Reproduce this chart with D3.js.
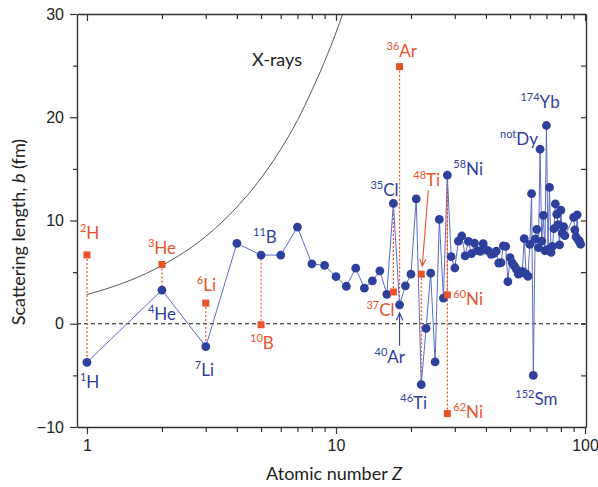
<!DOCTYPE html>
<html>
<head>
<meta charset="utf-8">
<script src="https://cdn.jsdelivr.net/npm/d3@7"></script>
<style>
  html, body { margin: 0; padding: 0; background: #fff; }
  svg { display: block; }
</style>
</head>
<body>
<div id="chart"></div>
<script>
/* Neutron scattering length b versus atomic number Z (log axis) */

// blue series: one value per element (natural or a chosen isotope)
const blueZ = [1, 2, 3, 4, 5, 6, 7, 8, 9, 10, 11, 12, 13, 14, 15, 16, 17, 18, 19, 20,
  21, 22, 23, 24, 25, 26, 27, 28, 29, 30, 31, 32, 33, 34, 35, 36, 37, 38, 39, 40,
  41, 42, 43, 44, 45, 46, 47, 48, 49, 50, 51, 52, 53, 54, 55, 56, 57, 58, 59, 60,
  61, 62, 63, 64, 65, 66, 67, 68, 69, 70, 71, 72, 73, 74, 75, 76, 77, 78, 79, 80,
  81, 82, 83, 90, 91, 92, 93, 94, 95, 96];
const blueB = [-3.74, 3.26, -2.22, 7.79, 6.65, 6.65, 9.36, 5.80, 5.65, 4.57, 3.63, 5.38, 3.45, 4.15, 5.13, 2.85, 11.65, 1.83, 3.67, 4.8,
  12.1, -5.9, -0.45, 4.9, -3.7, 10.1, 2.49, 14.4, 6.5, 5.4, 8.0, 8.5, 6.58, 7.97, 6.8, 7.81, 7.09, 7.02, 7.75, 7.16,
  7.05, 6.72, 6.8, 7.03, 5.88, 5.91, 7.55, 7.5, 4.07, 6.4, 5.9, 5.6, 5.28, 4.8, 4.9, 5.07, 8.24, 4.84, 4.58, 7.69,
  12.6, -5.0, 8.2, 9.15, 7.38, 16.9, 8.01, 10.5, 7.07, 19.2, 7.21, 13.2, 6.91, 7.5, 9.2, 11.6, 10.6, 9.6, 7.63, 11.0,
  8.78, 9.4, 8.53, 10.31, 9.1, 8.42, 10.55, 8.1, 8.0, 7.7];

// red series: other isotopes of the same element
const redZ = [1, 2, 3, 5, 17, 18, 22, 28, 28];
const redB = [6.67, 5.74, 2.0, -0.1, 3.08, 24.9, 4.8, 2.8, -8.7];

// X-ray line
const xrayZ = [1, 1.5, 2, 3, 4, 5, 6, 7, 8, 9, 10, 10.64];
const xrayB = [2.82, 4.23, 5.64, 8.46, 11.3, 14.1, 16.9, 19.7, 22.6, 25.4, 28.2, 30];

// isotope labels: mass number, symbol, series, Z
const labelSup = ["1", "4", "7", "11", "35", "40", "46", "58", "152", "not", "174",
                  "2", "3", "6", "10", "37", "36", "48", "60", "62"];
const labelEl  = ["H", "He", "Li", "B", "Cl", "Ar", "Ti", "Ni", "Sm", "Dy", "Yb",
                  "H", "He", "Li", "B", "Cl", "Ar", "Ti", "Ni", "Ni"];
const labelSeries = ["b", "b", "b", "b", "b", "b", "b", "b", "b", "b", "b",
                     "r", "r", "r", "r", "r", "r", "r", "r", "r"];
const labelIdx = [0, 1, 2, 4, 16, 17, 21, 27, 61, 65, 69,   // index into blue arrays
                  0, 1, 2, 3, 4, 5, 6, 7, 8];               // index into red arrays

const yTicks = [-10, 0, 10, 20, 30];
const yMinor = [-5, 5, 15, 25];
const xTicks = [1, 10, 100];
const xMinor = [2, 3, 4, 5, 6, 7, 8, 9, 20, 30, 40, 50, 60, 70, 80, 90];

// ---- layout / styles ----
const W = 598, H = 487;
const BLUE = '#2f3f9c', BLUE_LINE = '#5b6cc8', RED = '#e8522c', AXIS = '#333';
const LABEL_FONT = 'Lato, "Open Sans", sans-serif';
const TICK_FONT = '"Liberation Sans", Arial, sans-serif';

// label offsets (px) from their point: left edge, baseline
const labelOff = [[-7, 26], [-14, 30], [-11, 29], [-8, -12], [-23, -7], [-25, 58], [-21, 24],
                  [6, 0], [-18, 30], [-40, -4], [-26, -18],
                  [-7, -16], [-14, -10], [-9, -12], [-11, 24], [-27, 24], [-13, -10],
                  [-8, -88], [6, 10], [6, 4]];

const x = d3.scaleLog().domain([0.912, 100.9]).range([77, 586]);
const y = d3.scaleLinear().domain([-10, 30]).range([427, 14]);

const svg = d3.select('#chart').append('svg')
    .attr('width', W)
    .attr('height', H);

const clip = svg.append('clipPath').attr('id', 'plot-clip')
  .append('rect')
    .attr('x', 77).attr('y', 14)
    .attr('width', 509).attr('height', 413);

const plot = svg.append('g').attr('clip-path', 'url(#plot-clip)');

// X-ray curve
plot.append('path')
    .datum(xrayZ.map((z, i) => [z, xrayB[i]]))
    .attr('fill', 'none')
    .attr('stroke', '#444')
    .attr('stroke-width', 0.9)
    .attr('d', d3.line().x(d => x(d[0])).y(d => y(d[1])).curve(d3.curveMonotoneX));

// zero line
plot.append('line')
    .attr('x1', 77).attr('x2', 586)
    .attr('y1', y(0)).attr('y2', y(0))
    .attr('stroke', '#111')
    .attr('stroke-width', 1)
    .attr('stroke-dasharray', '4,3');

// dotted red links from each isotope to its element point
plot.append('g')
  .selectAll('line')
  .data(redZ.map((z, i) => ({ z, b: redB[i], b0: blueB[blueZ.indexOf(z)] })))
  .join('line')
    .attr('x1', d => x(d.z)).attr('x2', d => x(d.z))
    .attr('y1', d => y(d.b)).attr('y2', d => y(d.b0))
    .attr('stroke', RED)
    .attr('stroke-width', 1.2)
    .attr('stroke-dasharray', '2,2');

// blue line + dots
const blue = blueZ.map((z, i) => [z, blueB[i]]);
plot.append('path')
    .datum(blue)
    .attr('fill', 'none')
    .attr('stroke', BLUE_LINE)
    .attr('stroke-width', 1)
    .attr('d', d3.line().x(d => x(d[0])).y(d => y(d[1])));

plot.append('g')
  .selectAll('circle')
  .data(blue)
  .join('circle')
    .attr('cx', d => x(d[0]))
    .attr('cy', d => y(d[1]))
    .attr('r', 4.4)
    .attr('fill', BLUE);

// red squares
plot.append('g')
  .selectAll('rect')
  .data(redZ.map((z, i) => [z, redB[i]]))
  .join('rect')
    .attr('x', d => x(d[0]) - 3.5)
    .attr('y', d => y(d[1]) - 3.5)
    .attr('width', 7).attr('height', 7)
    .attr('fill', RED);

// axes
function styleAxis(g) {
  g.selectAll('.domain').attr('stroke', AXIS).attr('stroke-width', 1.4);
  g.selectAll('.tick line').attr('stroke', AXIS).attr('stroke-width', 1.2);
  g.selectAll('.tick text').attr('fill', '#222')
      .style('font-family', TICK_FONT).style('font-size', '16px');
}
const fmtY = d => d < 0 ? '\u2212' + Math.abs(d) : String(d);

svg.append('g').attr('transform', 'translate(77,0)')
    .call(d3.axisLeft(y).tickValues(yTicks).tickSize(7).tickSizeOuter(0).tickPadding(6).tickFormat(fmtY))
    .call(styleAxis);
svg.append('g').attr('transform', 'translate(77,0)')
    .call(d3.axisLeft(y).tickValues(yMinor).tickSize(4).tickFormat(''))
    .call(g => g.select('.domain').remove())
    .call(styleAxis);

svg.append('g').attr('transform', 'translate(0,427)')
    .call(d3.axisBottom(x).tickValues(xTicks).tickSize(7).tickSizeOuter(0).tickPadding(6).tickFormat(d3.format('d')))
    .call(styleAxis);
svg.append('g').attr('transform', 'translate(0,427)')
    .call(d3.axisBottom(x).tickValues(xMinor).tickSize(5).tickFormat(''))
    .call(g => g.select('.domain').remove())
    .call(styleAxis);

// top and right frame, ticks pointing in
svg.append('g').attr('transform', 'translate(0,14)')
    .call(d3.axisBottom(x).tickValues(xTicks).tickSize(7).tickSizeOuter(0).tickFormat(''))
    .call(styleAxis);
svg.append('g').attr('transform', 'translate(0,14)')
    .call(d3.axisBottom(x).tickValues(xMinor).tickSize(5).tickFormat(''))
    .call(g => g.select('.domain').remove())
    .call(styleAxis);
svg.append('g').attr('transform', 'translate(586,0)')
    .call(d3.axisLeft(y).tickValues(yTicks.concat(yMinor)).tickSize(5).tickSizeOuter(0).tickFormat(''))
    .call(styleAxis);

// axis titles
const yTitle = svg.append('text')
    .attr('transform', 'translate(25,232) rotate(-90)')
    .attr('text-anchor', 'middle')
    .attr('fill', '#222')
    .style('font-family', LABEL_FONT).style('font-size', '18px');
yTitle.append('tspan').text('Scattering length, ');
yTitle.append('tspan').attr('font-style', 'italic').text('b');
yTitle.append('tspan').text(' (fm)');

const xTitle = svg.append('text')
    .attr('x', 334).attr('y', 480)
    .attr('text-anchor', 'middle')
    .attr('fill', '#222')
    .style('font-family', LABEL_FONT).style('font-size', '18px');
xTitle.append('tspan').text('Atomic number ');
xTitle.append('tspan').attr('font-style', 'italic').text('Z');

// X-rays label
svg.append('text')
    .attr('x', x(4.6)).attr('y', y(25))
    .attr('fill', '#222')
    .style('font-family', LABEL_FONT).style('font-size', '18px')
    .text('X-rays');

// isotope labels
const labels = svg.append('g').style('font-family', LABEL_FONT);
labelSup.forEach((sup, i) => {
  const isBlue = labelSeries[i] === 'b';
  const k = labelIdx[i];
  const px = x(isBlue ? blueZ[k] : redZ[k]) + labelOff[i][0];
  const py = y(isBlue ? blueB[k] : redB[k]) + labelOff[i][1];
  const t = labels.append('text')
      .attr('x', px).attr('y', py)
      .attr('fill', isBlue ? BLUE : RED);
  t.append('tspan').attr('dy', -7).style('font-size', '11px').text(sup);
  t.append('tspan').attr('dy', 7).style('font-size', '17px').text(labelEl[i]);
});

// arrows to 40Ar and 48Ti
function arrow(x1, y1, x2, y2, color) {
  const a = Math.atan2(y2 - y1, x2 - x1), s = 8, w = 0.4;
  labels.append('path')
      .attr('fill', 'none')
      .attr('stroke', color)
      .attr('stroke-width', 1.1)
      .attr('d', `M${x1},${y1}L${x2},${y2}` +
        `M${x2 - s * Math.cos(a - w)},${y2 - s * Math.sin(a - w)}L${x2},${y2}` +
        `L${x2 - s * Math.cos(a + w)},${y2 - s * Math.sin(a + w)}`);
}
arrow(x(18), y(blueB[17]) + 41, x(18), y(blueB[17]) + 8, BLUE);
arrow(x(22) + 7, y(redB[6]) - 84, x(22) + 1, y(redB[6]) - 8, RED);
</script>
</body>
</html>
